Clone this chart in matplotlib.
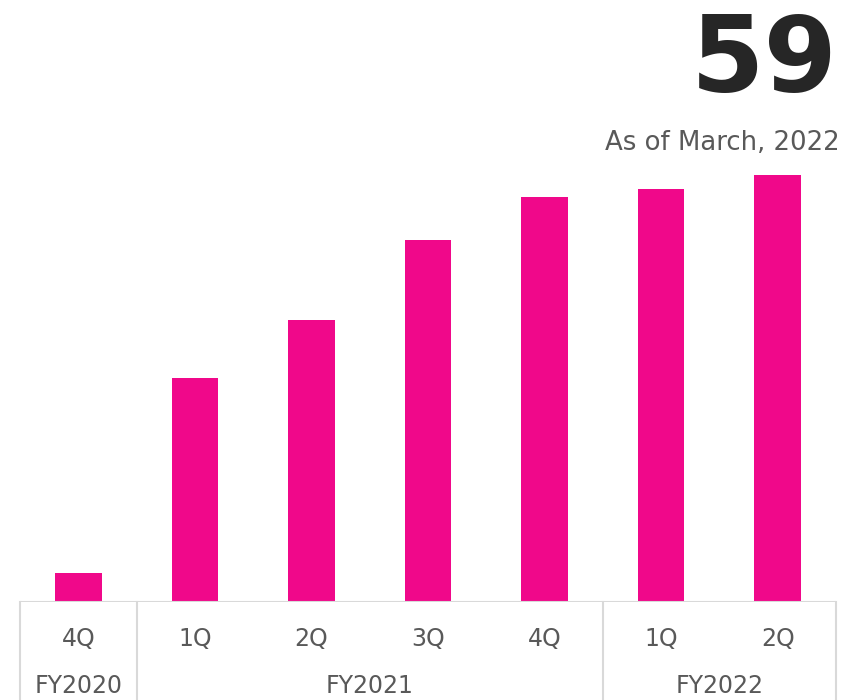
import matplotlib.pyplot as plt

# Data
quarters = ["4Q", "1Q", "2Q", "3Q", "4Q", "1Q", "2Q"]
values = [4, 31, 39, 50, 56, 57, 59]
fiscal_years = ["FY2020", "FY2021", "FY2022"]
fy_spans = [(0, 0), (1, 4), (5, 6)]

headline = "59"
subtitle = "As of March, 2022"

BAR_COLOR = "#F0088A"
TEXT_COLOR = "#595959"
LINE_COLOR = "#D9D9D9"

W, H = 853, 700
fig = plt.figure(figsize=(W / 100, H / 100), dpi=100)

ax_left, ax_right = 20 / W, 836 / W
ax_bottom = (H - 602) / H
ax_top_px = 160
ax = fig.add_axes([ax_left, ax_bottom, ax_right - ax_left, (602 - ax_top_px) / H])

x = list(range(len(values)))
ax.bar(x, values, width=0.4, color=BAR_COLOR, zorder=2)
ax.set_xlim(-0.5, len(values) - 0.5)
ax.set_ylim(0, values[-1] * (602 - ax_top_px) / (602 - 175))

for s in ax.spines.values():
    s.set_visible(False)
ax.set_yticks([])
ax.set_xticks(x)
ax.set_xticklabels(quarters, fontsize=17, color=TEXT_COLOR)
ax.tick_params(axis="x", length=0, pad=18)

# baseline and group separators
ax.axhline(0, color=LINE_COLOR, lw=1.5, zorder=3)
trans = ax.get_xaxis_transform()
depth = -(H - 602) / (602 - ax_top_px)
for b in [-0.5, 0.5, 4.5, 6.5]:
    ax.plot([b, b], [0, depth], color=LINE_COLOR, lw=1.5, transform=trans, clip_on=False)

for label, (a, b) in zip(fiscal_years, fy_spans):
    ax.text((a + b) / 2, depth * 0.86, label, transform=trans, ha="center", va="center",
            fontsize=17, color=TEXT_COLOR, clip_on=False)

fig.text(838 / W, 1 - 92 / H, headline, ha="right", va="baseline", fontsize=76,
         fontweight="bold", color="#262626")
fig.text(840 / W, 1 - 143 / H, subtitle, ha="right", va="center", fontsize=18.7,
         color=TEXT_COLOR)

fig.savefig("out.png", dpi=100, facecolor="white")
